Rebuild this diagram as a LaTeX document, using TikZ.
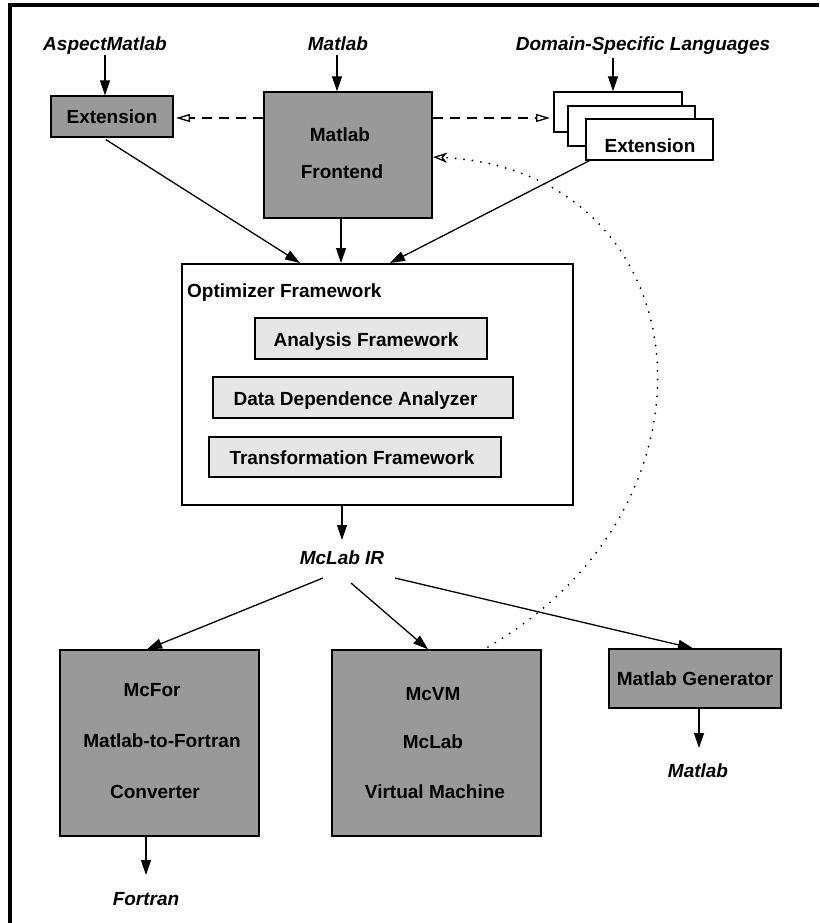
\documentclass[tikz,border=0pt]{standalone}
\usepackage{fontspec}
\setmainfont{Liberation Sans}
\usetikzlibrary{arrows.meta}
\definecolor{dgray}{HTML}{999999}
\definecolor{lgray}{HTML}{E6E6E6}
\begin{document}
\begin{tikzpicture}[x=1pt,y=-1pt,
  txt/.style={font=\fontsize{19}{23}\selectfont\bfseries, inner sep=0pt},
  lbl/.style={font=\fontsize{19}{23}\selectfont\bfseries\itshape, inner sep=0pt},
  dbox/.style={draw, line width=1.4pt, fill=dgray, inner sep=0pt, font=\fontsize{19}{23}\selectfont\bfseries},
  lbox/.style={draw, line width=1.4pt, fill=lgray, inner sep=0pt},
  wbox/.style={draw, line width=1.4pt, fill=white, inner sep=0pt},
  conn/.style={line width=1.3pt, -{Triangle[length=15pt,width=10pt]}},
  dconn/.style={line width=1.3pt, dash pattern=on 10pt off 7pt, -{Triangle[open,length=14pt,width=8pt]}},
  tconn/.style={line width=2pt, line cap=round, dash pattern=on 0pt off 8.5pt, -{Stealth[open,length=14pt,width=10pt,inset=4pt,line width=1.3pt]}},
]
\useasboundingbox (0,0) rectangle (819,923);
% frame
\draw[line width=4pt] (10,923) -- (10,5.3) -- (819,5.3);

% top labels
\node[lbl, anchor=base] (aspect) at (105,51) {AspectMatlab};
\node[lbl, anchor=base] (mtop) at (338,51) {Matlab};
\node[lbl, anchor=base] (dsl) at (643,51) {Domain-Specific Languages};

% top boxes
\node[dbox, minimum width=122pt, minimum height=41pt] (ext1) at (112,116.5) {Extension};
\node[dbox, minimum width=168pt, minimum height=126pt] (fe) at (348,155) {};
\node[txt, anchor=base] (fet1) at (340,142) {Matlab};
\node[txt, anchor=base] (fet2) at (342,178) {Frontend};

\node[wbox, minimum width=128pt, minimum height=40pt] (b1) at (618,112) {};
\node[wbox, minimum width=127pt, minimum height=40pt] (b2) at (631.5,126) {};
\node[wbox, minimum width=127pt, minimum height=41pt] (b3) at (649.5,139.5) {};
\node[txt, anchor=base] (b3t) at (650,152) {Extension};

% optimizer
\node[draw, line width=1.4pt, fill=white, minimum width=391pt, minimum height=241pt, inner sep=0pt] (opt) at (377.5,384.5) {};
\node[txt, anchor=base west] (optt) at (187,297) {Optimizer Framework};
\node[lbox, minimum width=232pt, minimum height=41pt] (an) at (371,338.5) {};
\node[txt, anchor=base] (ant) at (366,346) {Analysis Framework};
\node[lbox, minimum width=300pt, minimum height=41pt] (dd) at (363,397.5) {};
\node[txt, anchor=base] (ddt) at (355.5,405) {Data Dependence Analyzer};
\node[lbox, minimum width=292pt, minimum height=40pt] (tf) at (355,457) {};
\node[txt, anchor=base] (tft) at (352,464.5) {Transformation Framework};

% IR
\node[lbl, anchor=base] (ir) at (342,564) {McLab IR};

% bottom boxes
\node[dbox, minimum width=199pt, minimum height=186pt] (mcfor) at (159.5,743) {};
\node[txt, anchor=base] (mf1) at (152,696) {McFor};
\node[txt, anchor=base] (mf2) at (162,747) {Matlab-to-Fortran};
\node[txt, anchor=base] (mf3) at (155,798) {Converter};

\node[dbox, minimum width=209pt, minimum height=186pt] (mcvm) at (436.5,743) {};
\node[txt, anchor=base] (mv1) at (433,700) {McVM};
\node[txt, anchor=base] (mv2) at (433,748) {McLab};
\node[txt, anchor=base] (mv3) at (435,798) {Virtual Machine};

\node[dbox, minimum width=172pt, minimum height=59pt] (gen) at (695,678.5) {Matlab Generator};

\node[lbl, anchor=base] (mbot) at (698,777) {Matlab};
\node[lbl, anchor=base] (fort) at (146,905) {Fortran};

% connector end points
\coordinate (a1s) at (105,55);
\coordinate (a2s) at (337,55);
\coordinate (a3s) at (613,58);
\coordinate (dl) at (176,118);
\coordinate (dr) at (550,118);
\coordinate (o1) at (300,263);
\coordinate (o2) at (341,263);
\coordinate (o3) at (390,263);
\coordinate (irtop) at (342,540);
\coordinate (ir1) at (323,578);
\coordinate (ir2) at (351,583);
\coordinate (ir3) at (395,578);
\coordinate (mbt) at (699,748);
\coordinate (ftt) at (146,875);
\coordinate (dots) at (488,647);
\coordinate (dott) at (433,157);

% connectors
\draw[conn] (a1s) -- (a1s |- ext1.north);
\draw[conn] (a2s) -- (a2s |- fe.north);
\draw[conn] (a3s) -- (a3s |- b1.north);
\draw[dconn] (fe.west |- dl) -- (dl);
\draw[dconn] (fe.east |- dr) -- (dr);
\draw[conn] ([xshift=-6pt,yshift=-2pt]ext1.south) -- (o1);
\draw[conn] (o2 |- fe.south) -- (o2);
\draw[conn] ([xshift=4pt]b3.south west) -- (o3);
\draw[conn] (irtop |- opt.south) -- (irtop);
\draw[conn] (ir1) -- ([xshift=-12.5pt]mcfor.north);
\draw[conn] (ir2) -- ([xshift=-8.5pt]mcvm.north);
\draw[conn] (ir3) -- ([xshift=-2pt]gen.north);
\draw[conn] (mbt |- gen.south) -- (mbt);
\draw[conn] (ftt |- mcfor.south) -- (ftt);
\draw[tconn] (dots) .. controls (740,500) and (700,170) .. (dott);
\end{tikzpicture}
\end{document}
